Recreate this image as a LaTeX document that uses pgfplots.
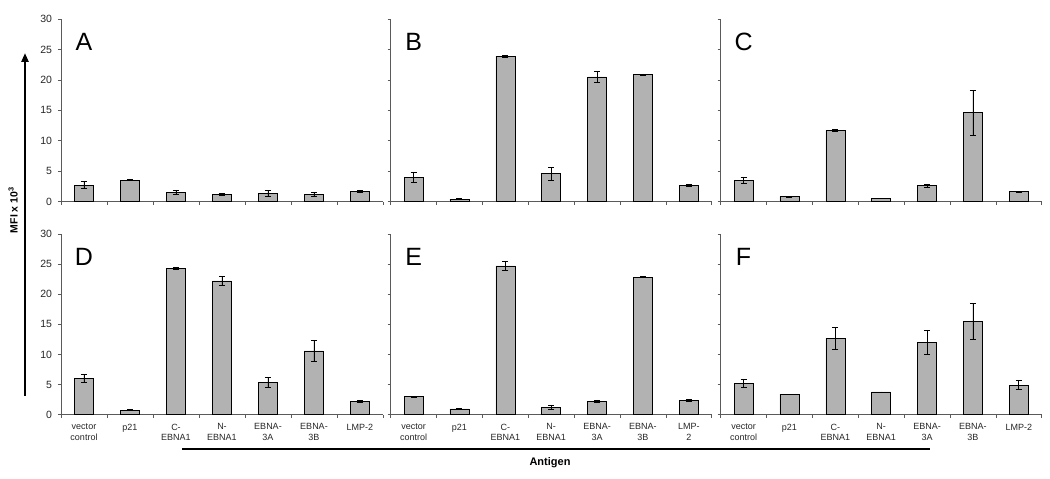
\documentclass[border=0pt]{standalone}
\usepackage{fontspec}
\setmainfont{Liberation Sans}
\usepackage{pgfplots}
\usepackage{pgfplotstable}
\pgfplotsset{compat=1.18}
\usetikzlibrary{arrows.meta}

\pgfplotstableread{
x y e
0 2.74 0.55
1 3.56 0.05
2 1.54 0.3
3 1.2 0.1
4 1.37 0.45
5 1.26 0.35
6 1.7 0.2
}\tabA
\pgfplotstableread{
x y e
0 4.05 0.85
1 0.44 0.1
2 23.92 0.15
3 4.6 1.05
4 20.48 0.87
5 20.9 0.1
6 2.69 0.2
}\tabB
\pgfplotstableread{
x y e
0 3.56 0.5
1 0.82 0.08
2 11.72 0.2
3 0.6 0
4 2.63 0.25
5 14.6 3.67
6 1.64 0.08
}\tabC
\pgfplotstableread{
x y e
0 6.09 0.67
1 0.78 0.05
2 24.3 0.1
3 22.2 0.75
4 5.38 0.88
5 10.58 1.69
6 2.22 0.15
}\tabD
\pgfplotstableread{
x y e
0 2.99 0.1
1 0.95 0.05
2 24.7 0.75
3 1.22 0.4
4 2.27 0.2
5 22.86 0.1
6 2.38 0.2
}\tabE
\pgfplotstableread{
x y e
0 5.26 0.63
1 3.43 0
2 12.68 1.8
3 3.77 0
4 12.02 2.05
5 15.5 3.05
6 4.93 0.7
}\tabF

\definecolor{barfill}{RGB}{178,178,178}
\definecolor{axcol}{RGB}{90,90,90}

\tikzset{letter/.style={font=\fontsize{25}{25}\selectfont}}
\pgfplotsset{
  panel/.style={
    scale only axis, anchor=south west,
    width=322pt,
    xmin=-0.5, xmax=6.5, ymin=0, ymax=30,
    axis x line*=bottom, axis y line*=left,
    axis line style={draw=axcol, line width=0.6pt},
    xtick={-0.5,0.5,...,6.5}, xticklabels={},
    ytick={0,5,...,30},
    tick align=outside, major tick length=3pt,
    tick style={draw=axcol, line width=0.6pt},
    /pgf/number format/assume math mode=true,
    yticklabel style={font=\fontsize{10.5}{12}\selectfont, text=black!85, xshift=-2.5pt},
    clip=false,
  },
  nolab/.style={yticklabels={}},
  xlabs1/.style={
    extra x ticks={0,...,6},
    extra x tick labels={{vector\\control},p21,{C-\\EBNA1},{N-\\EBNA1},{EBNA-\\3A},{EBNA-\\3B},LMP-2},
    extra x tick style={major tick length=0pt, tick label style={align=center, font=\fontsize{9}{10.5}\selectfont, text=black!85, yshift=-5.5pt}},
  },
  xlabs2/.style={
    extra x ticks={0,...,6},
    extra x tick labels={{vector\\control},p21,{C-\\EBNA1},{N-\\EBNA1},{EBNA-\\3A},{EBNA-\\3B},{LMP-\\2}},
    extra x tick style={major tick length=0pt, tick label style={align=center, font=\fontsize{9}{10.5}\selectfont, text=black!85, yshift=-5.5pt}},
  },
  mybar/.style={ybar, bar width=19pt, bar shift=0pt, fill=barfill, draw=black, line width=0.6pt,
    error bars/.cd, y dir=both, y explicit,
    error bar style={line width=0.6pt, black},
    error mark options={rotate=90, mark size=3pt, line width=0.6pt, black}},
}

\begin{document}
\begin{tikzpicture}
\path[use as bounding box] (0pt,0pt) rectangle (1050pt,479pt);

% top row
\begin{axis}[panel, at={(61pt,277.3pt)}, height=182.7pt]
\addplot[mybar] table[x=x,y=y,y error=e] {\tabA};
\node[letter] at (axis cs:0,26.2) {A};
\end{axis}
\begin{axis}[panel, nolab, at={(390.7pt,277.3pt)}, height=182.7pt, width=321pt]
\addplot[mybar] table[x=x,y=y,y error=e] {\tabB};
\node[letter] at (axis cs:0,26.2) {B};
\end{axis}
\begin{axis}[panel, nolab, at={(720.7pt,277.3pt)}, height=182.7pt, width=321pt]
\addplot[mybar] table[x=x,y=y,y error=e] {\tabC};
\node[letter] at (axis cs:0,26.2) {C};
\end{axis}

% bottom row
\begin{axis}[panel, xlabs1, at={(61pt,64.3pt)}, height=180.7pt]
\addplot[mybar] table[x=x,y=y,y error=e] {\tabD};
\node[letter] at (axis cs:0,26.2) {D};
\end{axis}
\begin{axis}[panel, nolab, xlabs2, at={(390.7pt,64.3pt)}, height=180.7pt, width=321pt]
\addplot[mybar] table[x=x,y=y,y error=e] {\tabE};
\node[letter] at (axis cs:0,26.2) {E};
\end{axis}
\begin{axis}[panel, nolab, xlabs1, at={(720.7pt,64.3pt)}, height=180.7pt, width=321pt]
\addplot[mybar] table[x=x,y=y,y error=e] {\tabF};
\node[letter] at (axis cs:0,26.2) {F};
\end{axis}

% annotations
\draw[line width=2.5pt, -{Triangle[length=9pt,width=7pt]}] (25pt,83pt) -- (25pt,426pt);
\node[rotate=90, font=\fontsize{10.5}{12}\selectfont\bfseries] at (13pt,269pt) {MFI x 10\textsuperscript{3}};
\draw[line width=2pt] (182pt,30pt) -- (930pt,30pt);
\node[font=\fontsize{11}{13}\selectfont\bfseries] at (550pt,16pt) {Antigen};
\end{tikzpicture}
\end{document}
